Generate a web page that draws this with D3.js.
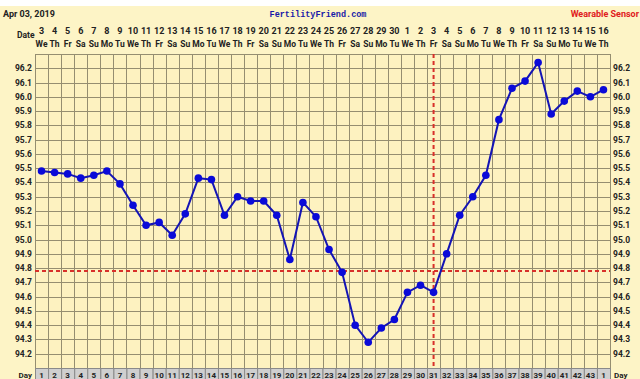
<!DOCTYPE html>
<html lang="en">
<head>
<meta charset="UTF-8"/>
<title>bbt chart</title>
<script src="https://d3js.org/d3.v7.min.js"></script>
<style>
  body { margin: 0; background: #fdf4c6; }
  text { font-family: Roboto, "Liberation Sans", sans-serif; font-weight: bold; fill: #222; }
  .grid line { stroke: #958e70; stroke-width: 1; shape-rendering: crispEdges; }
</style>
</head>
<body>
<svg id="chart" width="640" height="379"></svg>
<script>
// chart data
var dates    = [3,4,5,6,7,8,9,10,11,12,13,14,15,16,17,18,19,20,21,22,23,24,25,26,27,28,29,30,1,2,3,4,5,6,7,8,9,10,11,12,13,14,15,16];
var weekdays = ["We","Th","Fr","Sa","Su","Mo","Tu","We","Th","Fr","Sa","Su","Mo","Tu","We","Th","Fr","Sa","Su","Mo","Tu",
                "We","Th","Fr","Sa","Su","Mo","Tu","We","Th","Fr","Sa","Su","Mo","Tu","We","Th","Fr","Sa","Su","Mo","Tu","We","Th"];
var cycleDays = [1,2,3,4,5,6,7,8,9,10,11,12,13,14,15,16,17,18,19,20,21,22,23,24,25,26,27,28,29,30,31,32,33,34,35,36,37,38,39,40,41,42,43,1];
var temps = [95.48,95.47,95.46,95.43,95.45,95.48,95.39,95.24,95.10,95.12,95.03,95.18,95.43,95.42,95.17,95.30,95.27,95.27,95.17,94.86,
             95.26,95.16,94.93,94.77,94.40,94.28,94.38,94.44,94.63,94.68,94.63,94.90,95.17,95.30,95.45,95.84,96.06,96.11,96.24,95.88,
             95.97,96.04,96.00,96.05];
var yTicks = [96.2,96.1,96.0,95.9,95.8,95.7,95.6,95.5,95.4,95.3,95.2,95.1,95.0,94.9,94.8,94.7,94.6,94.5,94.4,94.3,94.2];
var coverline = 94.78;
var ovulationDay = 31;

var svg = d3.select("#chart");

var plotLeft = 35, plotRight = 610, plotTop = 54, plotBottom = 368;

var x = d3.scaleBand()
  .domain(d3.range(temps.length))
  .range([plotLeft, plotRight]);

var y = d3.scaleLinear()
  .domain([94.1, 96.3])
  .range([plotBottom, plotTop]);

function cx(i) { return x(i) + x.bandwidth() / 2; }

// top white strip
svg.append("rect").attr("x", 0).attr("y", 0).attr("width", 640).attr("height", 6).attr("fill", "#fff");

// plot background
svg.append("rect")
  .attr("x", plotLeft).attr("y", plotTop)
  .attr("width", plotRight - plotLeft).attr("height", plotBottom - plotTop)
  .attr("fill", "#fdf2c0");

// header texts
svg.append("text").attr("x", 3).attr("y", 17).text("Apr 03, 2019").style("font-size", "9px");
svg.append("text").attr("x", 318).attr("y", 17).attr("text-anchor", "middle")
  .text("FertilityFriend.com")
  .style("font-family", "'Liberation Mono', 'DejaVu Sans Mono', monospace")
  .style("font-size", "8.5px").style("fill", "#1a1aa8");
svg.append("text").attr("x", 639).attr("y", 17).attr("text-anchor", "end").text("Wearable Sensor")
  .style("font-size", "9px").style("fill", "#e0201c");

svg.append("text").attr("x", 17).attr("y", 38).text("Date").style("font-size", "8.5px");

// date row and weekday row
svg.selectAll(".date").data(dates).enter().append("text")
  .attr("x", function(d, i) { return cx(i); })
  .attr("y", 34)
  .attr("text-anchor", "middle")
  .style("font-size", "9px")
  .text(function(d) { return d; });

svg.selectAll(".wd").data(weekdays).enter().append("text")
  .attr("x", function(d, i) { return cx(i); })
  .attr("y", 47)
  .attr("text-anchor", "middle")
  .style("font-size", "8.5px")
  .text(function(d) { return d; });

// grid
var grid = svg.append("g").attr("class", "grid");
grid.selectAll(".h").data(d3.range(0, 23)).enter().append("line")
  .attr("x1", plotLeft).attr("x2", plotRight)
  .attr("y1", function(d) { return Math.round(y(94.1 + d * 0.1)) + 0.5; })
  .attr("y2", function(d) { return Math.round(y(94.1 + d * 0.1)) + 0.5; });
grid.selectAll(".v").data(d3.range(temps.length + 1)).enter().append("line")
  .attr("x1", function(d) { return Math.round(plotLeft + d * x.bandwidth()) + 0.5; })
  .attr("x2", function(d) { return Math.round(plotLeft + d * x.bandwidth()) + 0.5; })
  .attr("y1", plotTop).attr("y2", plotBottom);

// y labels on both sides
svg.selectAll(".yl").data(yTicks).enter().append("text")
  .attr("x", 32).attr("y", function(d) { return y(d) + 3; })
  .attr("text-anchor", "end")
  .style("font-size", "8.5px")
  .text(function(d) { return d.toFixed(1); });
svg.selectAll(".yr").data(yTicks).enter().append("text")
  .attr("x", 613).attr("y", function(d) { return y(d) + 3; })
  .style("font-size", "8.5px")
  .text(function(d) { return d.toFixed(1); });

// coverline and ovulation line
svg.append("line")
  .attr("x1", plotLeft).attr("x2", plotRight)
  .attr("y1", y(coverline)).attr("y2", y(coverline))
  .attr("stroke", "#d8302a").attr("stroke-width", 2).attr("stroke-dasharray", "4,3");
var ovx = cx(ovulationDay - 1);
svg.append("line")
  .attr("x1", ovx).attr("x2", ovx)
  .attr("y1", plotTop).attr("y2", plotBottom + 11)
  .attr("stroke", "#d8302a").attr("stroke-width", 2).attr("stroke-dasharray", "4,3");

// temperature line
var line = d3.line()
  .x(function(d, i) { return cx(i); })
  .y(function(d) { return y(d); });

svg.append("path")
  .datum(temps)
  .attr("d", line)
  .attr("fill", "none")
  .attr("stroke", "#1414b4")
  .attr("stroke-width", 2);

svg.selectAll(".dot").data(temps).enter().append("circle")
  .attr("cx", function(d, i) { return cx(i); })
  .attr("cy", function(d) { return y(d); })
  .attr("r", 3.8)
  .attr("fill", "#0a0ad8");

// cycle day row
var dayRow = svg.append("g");
dayRow.selectAll("rect").data(cycleDays).enter().append("rect")
  .attr("x", function(d, i) { return x(i) + 0.5; })
  .attr("y", plotBottom + 0.5)
  .attr("width", x.bandwidth())
  .attr("height", 14)
  .attr("fill", "#cfcfcf")
  .attr("stroke", "#8a8a8a");
dayRow.selectAll("text").data(cycleDays).enter().append("text")
  .attr("x", function(d, i) { return cx(i); })
  .attr("y", 378)
  .attr("text-anchor", "middle")
  .style("font-size", "8px")
  .text(function(d) { return d; });
svg.append("text").attr("x", 32).attr("y", 378).attr("text-anchor", "end").text("Day").style("font-size", "8px");
svg.append("text").attr("x", 614).attr("y", 378).text("Day").style("font-size", "8px");
</script>
</body>
</html>
